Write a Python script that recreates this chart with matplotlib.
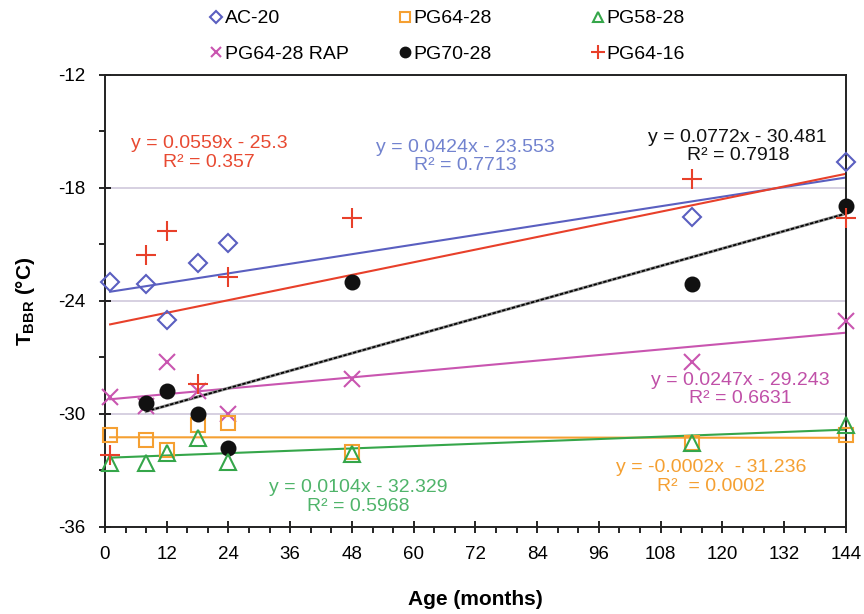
import numpy as np
import matplotlib
matplotlib.use('Agg')
import matplotlib.pyplot as plt
from matplotlib.ticker import MultipleLocator

plt.rcParams['font.family'] = ['Liberation Sans', 'DejaVu Sans']
plt.rcParams['mathtext.fontset'] = 'custom'
plt.rcParams['mathtext.rm'] = 'Liberation Sans:bold'
plt.rcParams['axes.unicode_minus'] = False

# Данные (месяцы, T_BBR)
ac20_x = [1, 8, 12, 18, 24, 114, 144]
ac20_y = [-23.0, -23.1, -25.0, -22.0, -20.9, -19.55, -16.6]

pg6428_x = [1, 8, 12, 18, 24, 48, 114, 144]
pg6428_y = [-31.1, -31.4, -31.9, -30.6, -30.5, -32.0, -31.55, -31.1]

pg5828_x = [1, 8, 12, 18, 24, 48, 114, 144]
pg5828_y = [-32.6, -32.6, -32.05, -31.25, -32.55, -32.15, -31.55, -30.6]

rap_x = [1, 8, 12, 18, 24, 48, 114, 144]
rap_y = [-29.1, -29.6, -27.25, -28.8, -30.0, -28.15, -27.25, -25.05]

pg7028_x = [8, 12, 18, 24, 48, 114, 144]
pg7028_y = [-29.4, -28.8, -30.0, -31.8, -23.0, -23.1, -18.95]

pg6416_x = [1, 8, 12, 18, 24, 48, 114, 144]
pg6416_y = [-32.2, -21.55, -20.3, -28.4, -22.75, -19.6, -17.5, -19.6]

# Линии тренда (наклон, смещение) и подписи
trend = {
    'AC-20': (0.0424, -23.553, 'y = 0.0424x - 23.553', 'R² = 0.7713'),
    'PG64-28': (-0.0002, -31.236, 'y = -0.0002x  - 31.236', 'R²  = 0.0002'),
    'PG58-28': (0.0104, -32.329, 'y = 0.0104x - 32.329', 'R² = 0.5968'),
    'PG64-28 RAP': (0.0247, -29.243, 'y = 0.0247x - 29.243', 'R² = 0.6631'),
    'PG70-28': (0.0772, -30.481, 'y = 0.0772x - 30.481', 'R² = 0.7918'),
    'PG64-16': (0.0559, -25.3, 'y = 0.0559x - 25.3', 'R² = 0.357'),
}

# Позиции подписей уравнений (x, y в координатах данных)
label_pos = {
    'AC-20': (70, -16.35),
    'PG64-28': (117.8, -33.35),
    'PG58-28': (49.2, -34.4),
    'PG64-28 RAP': (123.4, -28.7),
    'PG70-28': (123, -15.8),
    'PG64-16': (20.2, -16.15),
}

series = [
    ('AC-20', ac20_x, ac20_y, 'D', '#5a5fc0', '#7283cf', dict(mfc='none', ms=9)),
    ('PG64-28 RAP', rap_x, rap_y, 'x', '#c955b0', '#c050a8', dict(ms=11)),
    ('PG64-28', pg6428_x, pg6428_y, 's', '#f5a032', '#f5a032', dict(mfc='none', ms=10)),
    ('PG70-28', pg7028_x, pg7028_y, 'o', '#111111', '#111111', dict(ms=10)),
    ('PG58-28', pg5828_x, pg5828_y, '^', '#35a64a', '#4fb46a', dict(mfc='none', ms=11)),
    ('PG64-16', pg6416_x, pg6416_y, '+', '#e8402a', '#e84a32', dict(ms=14)),
]

fig = plt.figure(figsize=(8.64, 6.14), dpi=100)
ax = fig.add_axes([0.1215, 0.1417, 0.8575, 0.7363])

handles = []
for name, xs, ys, mk, col, tcol, kw in series:
    h, = ax.plot(xs, ys, linestyle='none', marker=mk, color=col, mec=col,
                 mew=1.5, label=name, zorder=3, clip_on=False, **kw)
    handles.append(h)
    k, b, eq, r2 = trend[name]
    tx = np.array([min(xs), max(xs)])
    if name == 'PG70-28':
        ax.plot(tx, k * tx + b, color='#888888', lw=2.2, zorder=2)
        ax.plot(tx, k * tx + b, color='black', lw=1.2, ls=(0, (2, 1)), zorder=2)
    else:
        ax.plot(tx, k * tx + b, color=col, lw=1.5, zorder=2)
    lx, ly = label_pos[name]
    ax.text(lx, ly, eq + '\n' + r2, color=tcol, fontsize=14, ha='center',
            va='center', linespacing=1.1, multialignment='center')

ax.set_xlim(0, 144)
ax.set_ylim(-36, -12)
ax.xaxis.set_major_locator(MultipleLocator(12))
ax.xaxis.set_minor_locator(MultipleLocator(4))
ax.yaxis.set_major_locator(MultipleLocator(6))
ax.yaxis.set_minor_locator(MultipleLocator(3))
ax.tick_params(which='major', direction='inout', length=9, width=1.2, labelsize=13.5, pad=9.5)
ax.tick_params(which='minor', direction='out', length=4, width=1.2)
ax.grid(axis='y', which='major', color='#cfc8dc', lw=1.2)
ax.set_axisbelow(True)
for sp in ax.spines.values():
    sp.set_linewidth(1.4)
    sp.set_color('#222222')

ax.set_xlabel('Age (months)', fontsize=15, fontweight='bold', labelpad=19)
ax.set_ylabel(r'T$_{\rm BBR}$ (°C)', fontsize=15, fontweight='bold', labelpad=15)

# Легенда: три колонки одинаковой ширины
columns = [[0, 1], [2, 3], [4, 5]]
col_left = [210, 399, 592]
for ci, idx in enumerate(columns):
    leg = fig.legend([handles[i] for i in idx], [series[i][0] for i in idx],
                     loc='upper left', bbox_to_anchor=(col_left[ci] / 864, 0.984),
                     frameon=False, fontsize=14, handlelength=0.6, handletextpad=0.15,
                     labelspacing=0.9, markerscale=0.7, borderpad=0, borderaxespad=0)

fig.savefig('out.png', dpi=100)
